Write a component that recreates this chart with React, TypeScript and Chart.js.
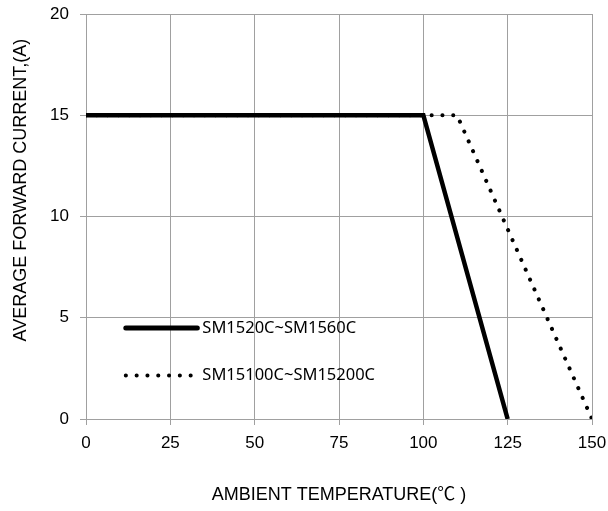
import React, { useEffect, useRef } from "react";
import { Chart, registerables } from "chart.js";

Chart.register(...registerables);

const xTicks = [0, 25, 50, 75, 100, 125, 150];
const yTicks = [0, 5, 10, 15, 20];
const seriesNames = ["SM1520C~SM1560C", "SM15100C~SM15200C"];
const solidX = [0, 100, 125];
const solidY = [15, 15, 0];
const dottedX = [0, 110, 150];
const dottedY = [15, 15, 0];
const legendX = [11.8, 33];
const legendY = [4.5, 2.15];
const yTitle = "AVERAGE FORWARD CURRENT,(A)";
const xTitle = "AMBIENT TEMPERATURE(℃ )";

const FONT = "'Liberation Sans', Arial, 'Noto Sans CJK SC', sans-serif";
const GRID = "#a0a0a0";

const legendPlugin = {
  id: "customLegend",
  afterDraw(chart: any) {
    const { ctx, scales, chartArea } = chart;
    const xs = scales.x;
    const ys = scales.y;
    const x0 = xs.getPixelForValue(legendX[0]);
    const x1 = xs.getPixelForValue(legendX[1]);
    ctx.save();
    let y = ys.getPixelForValue(legendY[0]);
    ctx.strokeStyle = "#000";
    ctx.lineCap = "round";
    ctx.lineWidth = 5;
    ctx.beginPath();
    ctx.moveTo(x0, y);
    ctx.lineTo(x1, y);
    ctx.stroke();
    ctx.fillStyle = "#000";
    ctx.font = "16.5px 'Noto Sans', sans-serif";
    ctx.textBaseline = "middle";
    ctx.textAlign = "left";
    ctx.fillText(seriesNames[0], x1 + 5, y);
    y = ys.getPixelForValue(legendY[1]);
    ctx.lineWidth = 4;
    ctx.setLineDash([0.1, 10.7]);
    ctx.beginPath();
    ctx.moveTo(x0, y);
    ctx.lineTo(x1, y);
    ctx.stroke();
    ctx.setLineDash([]);
    ctx.fillText(seriesNames[1], x1 + 5, y);
    // y axis title (offset upward like the reference)
    const cy = chartArea.top + chartArea.height * 0.435;
    ctx.translate(21, cy);
    ctx.rotate(-Math.PI / 2);
    ctx.font = "18px " + FONT;
    ctx.textAlign = "center";
    ctx.textBaseline = "middle";
    ctx.fillText(yTitle, 0, 0);
    ctx.restore();
  },
};

export default function App() {
  const ref = useRef<HTMLCanvasElement>(null);
  useEffect(() => {
    const chart = new Chart(ref.current!, {
      type: "scatter",
      data: {
        datasets: [
          {
            label: seriesNames[1],
            data: dottedX.map((x, i) => ({ x, y: dottedY[i] })),
            showLine: true,
            borderColor: "#000",
            borderWidth: 4,
            borderDash: [0.1, 10.7],
            borderCapStyle: "round",
            pointRadius: 0,
            tension: 0,
          },
          {
            label: seriesNames[0],
            data: solidX.map((x, i) => ({ x, y: solidY[i] })),
            showLine: true,
            borderColor: "#000",
            borderWidth: 4.5,
            borderCapStyle: "butt",
            pointRadius: 0,
            tension: 0,
          },
        ],
      },
      options: {
        animation: false,
        responsive: false,
        maintainAspectRatio: false,
        layout: { padding: { top: 14, right: 16, left: 0, bottom: 0 } },
        plugins: { legend: { display: false }, tooltip: { enabled: false } },
        scales: {
          x: {
            type: "linear",
            min: 0,
            max: 150,
            afterBuildTicks: (s: any) => {
              s.ticks = xTicks.map((v) => ({ value: v }));
            },
            afterFit: (s: any) => {
              s.height = 92;
              s.paddingLeft = 0;
              s.paddingRight = 0;
            },
            ticks: {
              color: "#000",
              font: { family: FONT, size: 17 },
              padding: 8,
              maxRotation: 0,
            },
            grid: { color: GRID, tickLength: 6, lineWidth: 1 },
            border: { color: GRID },
            title: {
              display: true,
              text: xTitle,
              color: "#000",
              font: { family: FONT, size: 18 },
              padding: { top: 0, bottom: 5 },
            },
          },
          y: {
            type: "linear",
            min: 0,
            max: 20,
            afterBuildTicks: (s: any) => {
              s.ticks = yTicks.map((v) => ({ value: v }));
            },
            afterFit: (s: any) => {
              s.width = 86;
              s.paddingTop = 0;
              s.paddingBottom = 0;
            },
            ticks: {
              color: "#000",
              font: { family: FONT, size: 17 },
              padding: 11,
            },
            grid: { color: GRID, tickLength: 6, lineWidth: 1 },
            border: { color: GRID },
            title: { display: false },
          },
        },
      },
      plugins: [legendPlugin],
    } as any);
    return () => chart.destroy();
  }, []);
  return (
    <div style={{ position: "absolute", left: 0, top: 0, width: 608, height: 511, background: "#fff" }}>
      <canvas ref={ref} width={608} height={511} style={{ display: "block" }} />
    </div>
  );
}
